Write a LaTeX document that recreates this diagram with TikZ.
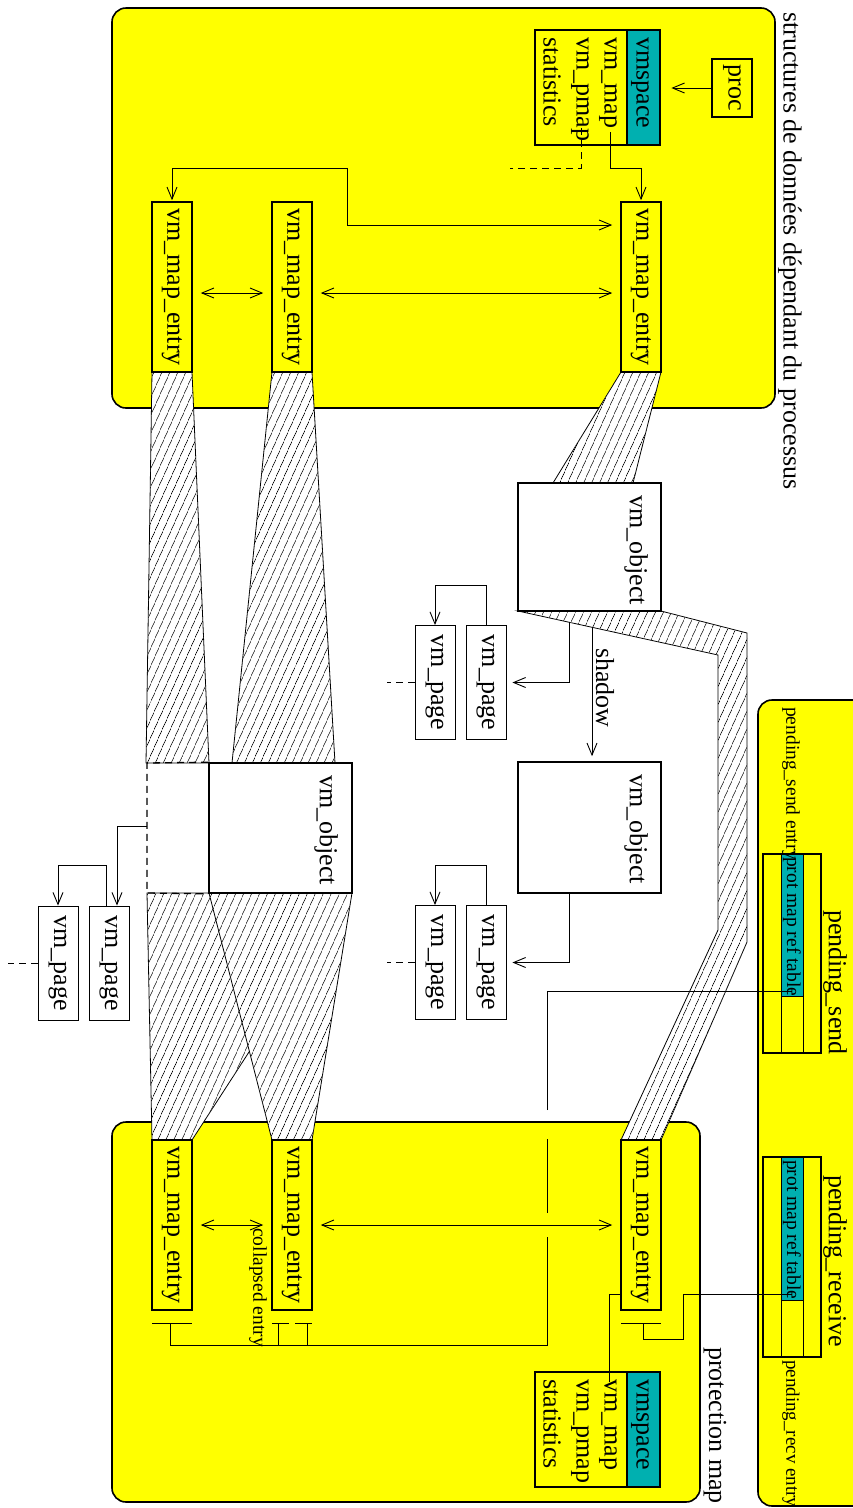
\documentclass[tikz,border=0pt]{standalone}
\usepackage{fontspec}
\setmainfont{Liberation Serif}
\usetikzlibrary{arrows.meta,patterns.meta}
\definecolor{figyellow}{RGB}{255,255,0}
\definecolor{figcyan}{RGB}{0,176,176}
\newcommand{\fbig}{\fontsize{26}{30}\selectfont}
\newcommand{\fsml}{\fontsize{19.5}{22}\selectfont}
\newcommand{\fsmx}{\fontsize{19}{22}\selectfont}
\newcommand{\rtxt}[1]{\rotatebox{-90}{#1}}
\pgfdeclarelayer{back}
\pgfdeclarelayer{mid}
\pgfsetlayers{back,mid,main}
\tikzset{
  conn/.style={line width=0.9pt},
  arr/.style={conn,-{Straight Barb[length=12pt,width=10pt]}},
  darr/.style={conn,{Straight Barb[length=12pt,width=10pt]}-{Straight Barb[length=12pt,width=10pt]}},
  dsh/.style={conn,dash pattern=on 7pt off 5pt},
  area/.style={draw,line width=1.6pt,fill=figyellow,rounded corners=14pt},
  entry/.style={draw,line width=1.6pt,fill=figyellow,minimum width=40pt,minimum height=170pt,inner sep=0pt,font=\fbig},
  page/.style={draw,line width=0.9pt,fill=white,minimum width=40pt,minimum height=114pt,inner sep=0pt,font=\fbig},
  obj/.style={draw,line width=1.6pt,fill=white,inner sep=0pt,minimum width=143pt},
  band/.style={draw,line width=0.8pt,fill=white,postaction={pattern={Lines[angle=66,distance=6.5pt,line width=0.6pt]}}},
  tbody/.style={draw,line width=1.6pt,fill=figyellow,inner sep=0pt},
  thead/.style={draw,line width=1.2pt,fill=figcyan,inner sep=0pt},
  lbl/.style={rotate=-90,anchor=west,inner sep=0pt,font=\fbig},
  slbl/.style={rotate=-90,anchor=west,inner sep=0pt,font=\fsml},
}
\begin{document}
\begin{tikzpicture}[x=1pt,y=-1pt]
\useasboundingbox (0,0) rectangle (853,1508);
% yellow areas
\begin{pgfonlayer}{back}
\draw[area] (112,8) rectangle (775,408);
\draw[area] (112,1122) rectangle (700,1502);
\draw[area] (758,700) rectangle (900,1506);
\end{pgfonlayer}
% hatched bands
\begin{pgfonlayer}{mid}
\draw[band] (152,372) -- (192,372) -- (209,763) -- (146,763) -- cycle;
\draw[band] (272,372) -- (312,372) -- (335,763) -- (232,763) -- cycle;
\draw[band] (621,372) -- (661,372) -- (633,483) -- (553,483) -- cycle;
\draw[band] (518,611) -- (661,611) -- (747,633) -- (747,942) -- (661,1140) -- (621,1140) -- (718,930) -- (718,655) -- cycle;
\draw[band] (147,893) -- (352,893) -- (192,1140) -- (152,1140) -- cycle;
\draw[band] (209,893) -- (352,893) -- (312,1140) -- (272,1140) -- cycle;
\end{pgfonlayer}
% labels outside boxes
\node[lbl] (lproc) at (790,12) {structures de données dépendant du processus};
\node[lbl] (lprot) at (715,1347) {protection map};
% top vmspace table and proc
\node[tbody,minimum width=92pt,minimum height=115pt] (vb1) at (581,87.5) {};
\node[thead,minimum width=33pt,minimum height=115pt] (vh1) at (643.5,87.5) {};
\node[lbl] (t1a) at (640,37) {vmspace};
\node[lbl] (t1b) at (608,37) {vm\_map};
\node[lbl] (t1c) at (580,37) {vm\_pmap};
\node[lbl] (t1d) at (552,37) {statistics};
\node[draw,line width=1.2pt,fill=figyellow,minimum width=40pt,minimum height=58pt,inner sep=0pt,font=\fbig] (proc) at (732,88) {\rtxt{proc}};
% top entries
\node[entry] (eA) at (172,287) {\rtxt{vm\_map\_entry}};
\node[entry] (eB) at (292,287) {\rtxt{vm\_map\_entry}};
\node[entry] (eC) at (641,287) {\rtxt{vm\_map\_entry}};
% bottom entries
\node[entry] (eA2) at (172,1225) {\rtxt{vm\_map\_entry}};
\node[entry] (eB2) at (292,1225) {\rtxt{vm\_map\_entry}};
\node[entry] (eC2) at (641,1225) {\rtxt{vm\_map\_entry}};
% objects
\node[obj,minimum height=128pt] (o1) at (589.5,547) {};
\node[obj,minimum height=131pt] (o2) at (589.5,827.5) {};
\node[obj,minimum height=130pt] (o3) at (280.5,828) {};
\node[lbl] at (636,495) {vm\_object};
\node[lbl] at (636,774) {vm\_object};
\node[lbl] at (326,775) {vm\_object};
\draw[dsh,line width=1.3pt] (o3.north west) -- (147,763) -- (147,893) -- (o3.south west);
% pages
\node[page] (pgU1) at (486,682.5) {\rtxt{vm\_page}};
\node[page] (pgU2) at (435,682.5) {\rtxt{vm\_page}};
\node[page] (pgL1) at (486,962.5) {\rtxt{vm\_page}};
\node[page] (pgL2) at (435,962.5) {\rtxt{vm\_page}};
\node[page] (pgA1) at (109,963) {\rtxt{vm\_page}};
\node[page] (pgA2) at (58,963) {\rtxt{vm\_page}};
\node[lbl] at (605,648) {shadow};
% bottom vmspace table
\node[tbody,minimum width=92pt,minimum height=115pt] (vb2) at (581,1429.5) {};
\node[thead,minimum width=33pt,minimum height=115pt] (vh2) at (643.5,1429.5) {};
\node[lbl] (t2a) at (640,1379) {vmspace};
\node[lbl] (t2b) at (608,1379) {vm\_map};
\node[lbl] (t2c) at (580,1379) {vm\_pmap};
\node[lbl] (t2d) at (552,1379) {statistics};
% pending tables
\node[tbody,minimum width=58pt,minimum height=199pt] (tS) at (792,953.5) {};
\node[thead,line width=0.8pt,minimum width=22pt,minimum height=142pt] (tSc) at (792,925) {};
\draw[line width=0.8pt] (781,996) -- (781,1053) (803,996) -- (803,1053);
\node[tbody,minimum width=58pt,minimum height=200pt] (tR) at (792,1257) {};
\node[thead,line width=0.8pt,minimum width=22pt,minimum height=143pt] (tRc) at (792,1228.5) {};
\draw[line width=0.8pt] (781,1300) -- (781,1357) (803,1300) -- (803,1357);
\node[slbl] (ptS) at (792,857) {prot map ref table};
\node[slbl] (ptR) at (792,1160) {prot map ref table};
\node[slbl] at (791,707) {pending\_send entry};
\node[slbl,font=\fsmx] at (791,1360) {pending\_recv entry};
\node[lbl] at (835,910) {pending\_send};
\node[lbl] at (835,1175) {pending\_receive};
\node[slbl] at (258,1228) {collapsed entry};
% top connectors
\draw[arr] (proc.west) -- ++(-40,0);
\draw[arr,shorten >=1pt] (610,132) -- (610,168) -- (eC.north |- 0,168) -- (eC.north);
\draw[dsh] (581,128) -- (581,168) -- (510,168);
\draw[darr,shorten <=1pt,shorten >=8pt] (eA.north) -- (eA.north |- 0,168) -- (347,168) -- (347,225) -- (eC.west |- 0,225);
\draw[darr,shorten <=8pt,shorten >=8pt] ([yshift=-6pt]eA.east) -- ([yshift=-6pt]eB.west);
\draw[darr,shorten <=8pt,shorten >=8pt] ([yshift=-6pt]eB.east) -- ([yshift=-6pt]eC.west);
% middle connectors
\draw[arr,shorten >=6pt] (569,622) |- (pgU1.east);
\draw[arr] (pgU1.north) -- ++(0,-40) -| (pgU2.north);
\draw[dsh] (pgU2.west) -- ++(-28,0);
\draw[arr,shorten >=5pt] (592,627) -- (o2.north -| 592,0);
\draw[arr,shorten >=6pt] (o2.south -| 569,0) |- (pgL1.east);
\draw[arr] (pgL1.north) -- ++(0,-40) -| (pgL2.north);
\draw[dsh] (pgL2.west) -- ++(-28,0);
\draw[arr] (147,826) -| ([xshift=8pt]pgA1.north);
\draw[arr] ([xshift=-3pt]pgA1.north) -- ++(0,-40) -| (pgA2.north);
\draw[dsh] (pgA2.west) -- ++(-30,0);
% bottom connectors
\draw[darr,shorten <=8pt,shorten >=8pt] (eA2.east) -- (eB2.west);
\draw[darr,shorten <=8pt,shorten >=8pt] (eB2.east) -- (eC2.west);
\draw[conn] (152,1323) -- (192,1323) (272,1323) -- (289,1323) (295,1323) -- (312,1323) (621,1323) -- (661,1323);
\draw[conn] (170,1323) -- (170,1345) -- (547,1345) -- (547,1237);
\draw[conn] (278,1323) -- (278,1345) (307,1323) -- (307,1345);
\draw[conn] (547,1213) -- (547,1139);
\draw[conn] (547,1110) -- (547,991) -- (ptS.east |- 0,991);
\draw[conn] (643,1323) -- (643,1339) -- (683,1339) -- (683,1294) -- (ptR.east |- 0,1294);
\draw[conn] (609,1382) -- (609,1294) -- (eC2.west |- 0,1294);
\end{tikzpicture}
\end{document}
